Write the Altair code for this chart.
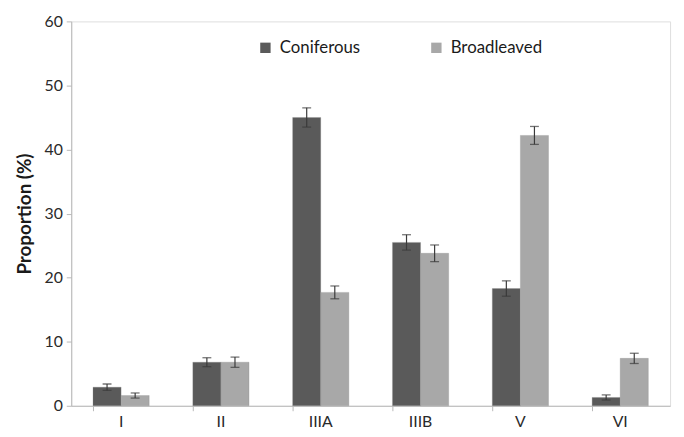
import altair as alt
import pandas as pd

categories = ["I", "II", "IIIA", "IIIB", "V", "VI"]
series = ["Coniferous", "Broadleaved"]
coniferous = [2.9, 6.8, 45.0, 25.5, 18.3, 1.3]
coniferous_err = [0.5, 0.7, 1.5, 1.2, 1.2, 0.4]
broadleaved = [1.6, 6.8, 17.7, 23.8, 42.2, 7.4]
broadleaved_err = [0.4, 0.8, 1.0, 1.3, 1.4, 0.8]
colors = ["#5a5a5a", "#a8a8a8"]

rows = []
for i, c in enumerate(categories):
    for s, vals, errs in ((series[0], coniferous, coniferous_err), (series[1], broadleaved, broadleaved_err)):
        rows.append({"cat": c, "series": s, "value": vals[i],
                     "lo": vals[i] - errs[i], "hi": vals[i] + errs[i]})
df = pd.DataFrame(rows)

FONT = "Lato"
xscale = alt.Scale(domain=categories, paddingInner=0.437, paddingOuter=0.218)
offscale = alt.Scale(domain=series, paddingInner=0, paddingOuter=0)
yscale = alt.Scale(domain=[0, 60], nice=False)

base = alt.Chart(df)

bars = base.mark_bar(stroke="#8a8a8a", strokeWidth=0.5, strokeOpacity=0.6).encode(
    x=alt.X("cat:N", scale=xscale, sort=categories, title=None,
            axis=alt.Axis(labelAngle=0, ticks=False, domain=True, domainColor="#b8b8b8",
                          labelFont=FONT, labelFontSize=16, labelColor="#2a2a2a",
                          labelPadding=8, grid=False)),
    xOffset=alt.XOffset("series:N", scale=offscale, sort=series),
    y=alt.Y("value:Q", scale=yscale, title="Proportion (%)",
            axis=alt.Axis(values=[0, 10, 20, 30, 40, 50, 60], grid=False,
                          domainColor="#b8b8b8", tickColor="#b8b8b8", tickSize=5,
                          labelFont=FONT, labelFontSize=16, labelColor="#2a2a2a",
                          labelPadding=4, titleFont=FONT, titleFontSize=19,
                          titleFontWeight="bold", titleColor="#1a1a1a", titlePadding=10)),
    color=alt.Color("series:N", scale=alt.Scale(domain=series, range=colors), sort=series,
                    legend=alt.Legend(orient="none", legendX=188, legendY=18,
                                      direction="horizontal", title=None,
                                      symbolType="square", symbolSize=110,
                                      symbolStrokeWidth=0, labelFont=FONT,
                                      labelFontSize=17, labelColor="#1a1a1a",
                                      columnPadding=68, labelOffset=6)),
)

errs = base.mark_rule(color="#3a3a3a", strokeWidth=1.2).encode(
    x=alt.X("cat:N", scale=xscale, sort=categories, title=None,
            axis=alt.Axis(labels=False, ticks=True, tickSize=5, tickColor="#b8b8b8",
                          bandPosition=0, domain=False, grid=False, orient="bottom")),
    xOffset=alt.XOffset("series:N", scale=offscale, sort=series),
    y=alt.Y("lo:Q", scale=yscale),
    y2="hi:Q",
)

cap_lo = base.mark_tick(color="#3a3a3a", size=9, thickness=1.3).encode(
    x=alt.X("cat:N", scale=xscale, sort=categories, axis=None),
    xOffset=alt.XOffset("series:N", scale=offscale, sort=series),
    y=alt.Y("lo:Q", scale=yscale),
)
cap_hi = base.mark_tick(color="#3a3a3a", size=9, thickness=1.3).encode(
    x=alt.X("cat:N", scale=xscale, sort=categories, axis=None),
    xOffset=alt.XOffset("series:N", scale=offscale, sort=series),
    y=alt.Y("hi:Q", scale=yscale),
)

chart = alt.layer(bars, errs, cap_lo, cap_hi).resolve_axis(x="independent").properties(
    width=606, height=389,
    autosize=alt.AutoSizeParams(type="none"),
    padding={"left": 64, "top": 11, "right": 6, "bottom": 25},
).configure_view(stroke=None).configure(background="white")

chart.save("out.html", embed_options={"renderer": "svg", "actions": False})
